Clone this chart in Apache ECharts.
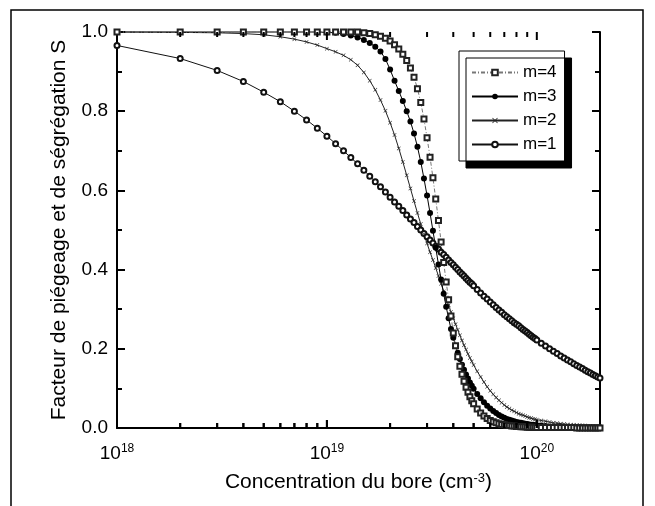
<!DOCTYPE html>
<html><head><meta charset="utf-8">
<script src="https://cdn.jsdelivr.net/npm/echarts@6/dist/echarts.min.js"></script>
<style>html,body{margin:0;padding:0;background:#fff}#c{width:655px;height:506px}</style>
</head><body><div id="c"></div><script>
// Boron concentration, in units of 1e18 cm^-3
const conc18 = [1,2,3,4,5,6,7,8,9,10,
  11,12,13,14,15,16,17,18,19,20,
  21,22,23,24,25,26,27,28,29,30,
  31,32,33,34,35,36,37,38,39,40,
  41,42,43,44,45,46,47,48,49,50,
  52,54,56,58,60,62,64,66,68,70,
  72,74,76,78,80,82,84,86,88,90,
  92,94,96,98,100,
  105,110,115,120,125,130,135,140,145,150,
  155,160,165,170,175,180,185,190,195,200];

const S_m1 = [0.966,0.933,0.903,0.875,0.848,0.824,0.800,0.778,0.757,0.737,
  0.718,0.700,0.683,0.667,0.651,0.636,0.622,0.609,0.596,0.583,
  0.571,0.560,0.549,0.538,0.528,0.519,0.509,0.500,0.491,0.483,
  0.475,0.467,0.459,0.452,0.444,0.438,0.431,0.424,0.418,0.412,
  0.406,0.400,0.394,0.389,0.384,0.378,0.373,0.368,0.364,0.359,
  0.350,0.341,0.333,0.326,0.318,0.311,0.304,0.298,0.292,0.286,
  0.281,0.276,0.271,0.266,0.262,0.258,0.253,0.249,0.245,0.241,
  0.237,0.233,0.229,0.226,0.222,
  0.214,0.207,0.200,0.194,0.188,0.182,0.177,0.172,0.167,0.162,
  0.158,0.154,0.150,0.146,0.142,0.139,0.135,0.132,0.129,0.126];

const S_m2 = [1.000,0.999,0.998,0.996,0.993,0.988,0.982,0.975,0.967,0.958,
  0.950,0.941,0.930,0.916,0.898,0.877,0.854,0.828,0.801,0.771,
  0.740,0.706,0.672,0.638,0.605,0.573,0.543,0.515,0.490,0.466,
  0.444,0.424,0.404,0.384,0.364,0.345,0.327,0.310,0.293,0.277,
  0.262,0.248,0.234,0.221,0.209,0.198,0.187,0.177,0.168,0.159,
  0.143,0.129,0.116,0.104,0.094,0.085,0.077,0.070,0.064,0.058,
  0.053,0.049,0.045,0.042,0.039,0.036,0.034,0.032,0.030,0.028,
  0.026,0.025,0.023,0.022,0.021,
  0.019,0.017,0.015,0.013,0.012,0.011,0.010,0.009,0.008,0.008,
  0.007,0.007,0.006,0.006,0.005,0.005,0.005,0.004,0.004,0.004];

const S_m3 = [1.000,1.000,1.000,1.000,1.000,1.000,1.000,1.000,1.000,0.999,
  0.998,0.995,0.991,0.986,0.980,0.972,0.963,0.951,0.932,0.905,
  0.877,0.851,0.826,0.800,0.774,0.744,0.710,0.672,0.630,0.587,
  0.543,0.498,0.455,0.413,0.375,0.339,0.306,0.277,0.250,0.228,
  0.208,0.190,0.174,0.160,0.147,0.135,0.125,0.115,0.107,0.099,
  0.086,0.075,0.065,0.056,0.049,0.043,0.038,0.033,0.029,0.026,
  0.023,0.021,0.019,0.017,0.015,0.014,0.013,0.012,0.011,0.010,
  0.009,0.008,0.008,0.007,0.007,
  0.006,0.005,0.004,0.004,0.003,0.003,0.002,0.002,0.002,0.002,
  0.001,0.001,0.001,0.001,0.001,0.001,0.001,0.001,0.001,0.001];

const S_m4 = [1.000,1.000,1.000,1.000,1.000,1.000,1.000,1.000,1.000,1.000,
  1.000,1.000,1.000,1.000,0.998,0.996,0.993,0.989,0.984,0.977,
  0.968,0.957,0.944,0.928,0.909,0.886,0.857,0.822,0.780,0.733,
  0.684,0.632,0.578,0.524,0.470,0.418,0.369,0.324,0.283,0.240,
  0.208,0.180,0.156,0.136,0.118,0.103,0.090,0.079,0.069,0.061,
  0.048,0.038,0.030,0.024,0.019,0.016,0.013,0.011,0.009,0.008,
  0.007,0.006,0.005,0.005,0.004,0.004,0.003,0.003,0.003,0.002,
  0.002,0.002,0.002,0.002,0.001,
  0.001,0.001,0.001,0.001,0.001,0.001,0.001,0.001,0.001,0.001,
  0.000,0.000,0.000,0.000,0.000,0.000,0.000,0.000,0.000,0.000];

const seriesNames = ['m=4','m=3','m=2','m=1'];
const xLabelValues = [1e18, 1e19, 1e20];
const xDecadeLabels = ['18','19','20'];           // exponents shown as 10^n
const xMajorTicks = [1e19, 1e20];
const xMinorTicks = [2e18,3e18,4e18,5e18,6e18,7e18,8e18,9e18,
                     2e19,3e19,4e19,5e19,6e19,7e19,8e19,9e19];
const yTickLabels = ['0.0','0.2','0.4','0.6','0.8','1.0'];

const FONT = "'Liberation Sans', Arial, sans-serif";
const pairs = arr => conc18.map((c, i) => [c * 1e18, arr[i]]);
const crossPath = 'path://M0,1L1,0L5,4L9,0L10,1L6,5L10,9L9,10L5,6L1,10L0,9L4,5Z';

const chart = echarts.init(document.getElementById('c'), null, {renderer: 'canvas'});

const xFmt = v => {
  const i = xLabelValues.findIndex(t => Math.abs(Math.log10(v) - Math.log10(t)) < 0.01);
  return i >= 0 ? '{b|10}{sup|' + xDecadeLabels[i] + '}' : '';
};

const tickStyle = {show: true, inside: true, length: 8, lineStyle: {color: '#000', width: 2}};
const minorStyle = {show: true, splitNumber: 2, length: 5, lineStyle: {color: '#000', width: 2}};

// tick marks on the log axes, drawn as tiny bars placed by the axes' scales
const tickSeries = (vals, yv, len, dir) => ({
  type: 'scatter', silent: true, clip: false, z: 6, zlevel: 1,
  data: vals.map(v => [v, yv]),
  symbol: 'rect', symbolSize: [2, len], symbolOffset: [0, dir * len / 2],
  itemStyle: {color: '#000', opacity: 1}, emphasis: {disabled: true}
});

const frame = {id: 'frame', type: 'rect', shape: {x: 11, y: 10, width: 632, height: 520},
  style: {fill: 'none', stroke: '#000', lineWidth: 1.5}, silent: true, z: 100};

chart.setOption({
  animation: false,
  backgroundColor: '#fff',
  grid: {left: 117, right: 55, top: 32, bottom: 78},
  xAxis: [{
    type: 'log', logBase: 10, min: 1e18, max: 2e20, position: 'bottom',
    axisLine: {show: true, lineStyle: {color: '#000', width: 2}},
    axisTick: {show: false},
    splitLine: {show: false},
    axisLabel: {
      formatter: xFmt, margin: 15, showMaxLabel: false,
      rich: {
        b: {fontSize: 19, fontFamily: FONT, color: '#000', lineHeight: 22},
        sup: {fontSize: 12, fontFamily: FONT, color: '#000', lineHeight: 12, verticalAlign: 'top'}
      }
    },
    name: 'Concentration du bore (cm{sup|-3})',
    nameLocation: 'middle', nameGap: 44,
    nameTextStyle: {fontSize: 21, fontFamily: FONT, color: '#000',
      rich: {sup: {fontSize: 13, fontFamily: FONT, color: '#000', verticalAlign: 'top', lineHeight: 12}}}
  }, {
    type: 'log', logBase: 10, min: 1e18, max: 2e20, position: 'top',
    axisLine: {show: true, lineStyle: {color: '#000', width: 1.5}},
    axisTick: {show: false}, axisLabel: {show: false}, splitLine: {show: false}
  }],
  yAxis: [{
    type: 'value', min: 0, max: 1, interval: 0.2, position: 'left',
    axisLine: {show: true, lineStyle: {color: '#000', width: 2}},
    axisTick: tickStyle, minorTick: minorStyle,
    splitLine: {show: false},
    axisLabel: {fontSize: 19, fontFamily: FONT, color: '#000', margin: 9,
      formatter: v => yTickLabels[Math.round(v / 0.2)] || ''},
    name: 'Facteur de piégeage et de ségrégation S',
    nameLocation: 'middle', nameGap: 47,
    nameTextStyle: {fontSize: 21, fontFamily: FONT, color: '#000'}
  }, {
    type: 'value', min: 0, max: 1, interval: 0.2, position: 'right',
    axisLine: {show: true, lineStyle: {color: '#000', width: 2}},
    axisTick: tickStyle, minorTick: minorStyle,
    axisLabel: {show: false}, splitLine: {show: false}
  }],
  legend: {
    orient: 'vertical', left: 459, top: 51,
    padding: [13, 8, 8, 12], itemGap: 7, itemWidth: 46, itemHeight: 7,
    backgroundColor: '#fff', borderColor: '#000', borderWidth: 1,
    shadowColor: '#000', shadowOffsetX: 7, shadowOffsetY: 7, shadowBlur: 0,
    textStyle: {fontSize: 17, fontFamily: FONT, color: '#000'},
    data: seriesNames
  },
  graphic: [frame],
  series: [
    {name: 'm=1', type: 'line', data: pairs(S_m1), clip: false,
     symbol: 'emptyCircle', symbolSize: 5,
     lineStyle: {color: '#111', width: 1}, itemStyle: {color: '#111', borderWidth: 1.2}},
    {name: 'm=2', type: 'line', data: pairs(S_m2), clip: false,
     symbol: crossPath, symbolSize: 4,
     lineStyle: {color: '#222', width: 1}, itemStyle: {color: '#222'}},
    {name: 'm=3', type: 'line', data: pairs(S_m3), clip: false,
     symbol: 'circle', symbolSize: 6,
     lineStyle: {color: '#000', width: 1}, itemStyle: {color: '#000'}},
    {name: 'm=4', type: 'line', data: pairs(S_m4), clip: false,
     symbol: 'emptyRect', symbolSize: 5,
     lineStyle: {color: '#777', width: 1, type: [4, 2, 1, 2]}, itemStyle: {color: '#222', borderWidth: 1}},
    tickSeries(xMinorTicks, 0, 5, -1),
    tickSeries(xMinorTicks, 1, 5, 1),
    tickSeries(xMajorTicks, 0, 8, -1),
    tickSeries(xMajorTicks, 1, 8, 1)
  ]
});

// same bottom ticks again as top-layer graphics placed through the grid's scales
try {
  const els = [frame];
  const add = (list, len, tag) => list.forEach((v, i) => {
    const pb = chart.convertToPixel({gridIndex: 0}, [v, 0]);
    if (pb && isFinite(pb[0]) && isFinite(pb[1])) {
      els.push({id: tag + i, type: 'line', zlevel: 1, z: 200, silent: true,
        shape: {x1: pb[0], y1: pb[1], x2: pb[0], y2: pb[1] - len},
        style: {stroke: '#000', lineWidth: 2}});
    }
  });
  add(xMinorTicks, 5, 'bm');
  add(xMajorTicks, 8, 'bj');
  chart.setOption({graphic: els});
} catch (e) {}
</script></body></html>
